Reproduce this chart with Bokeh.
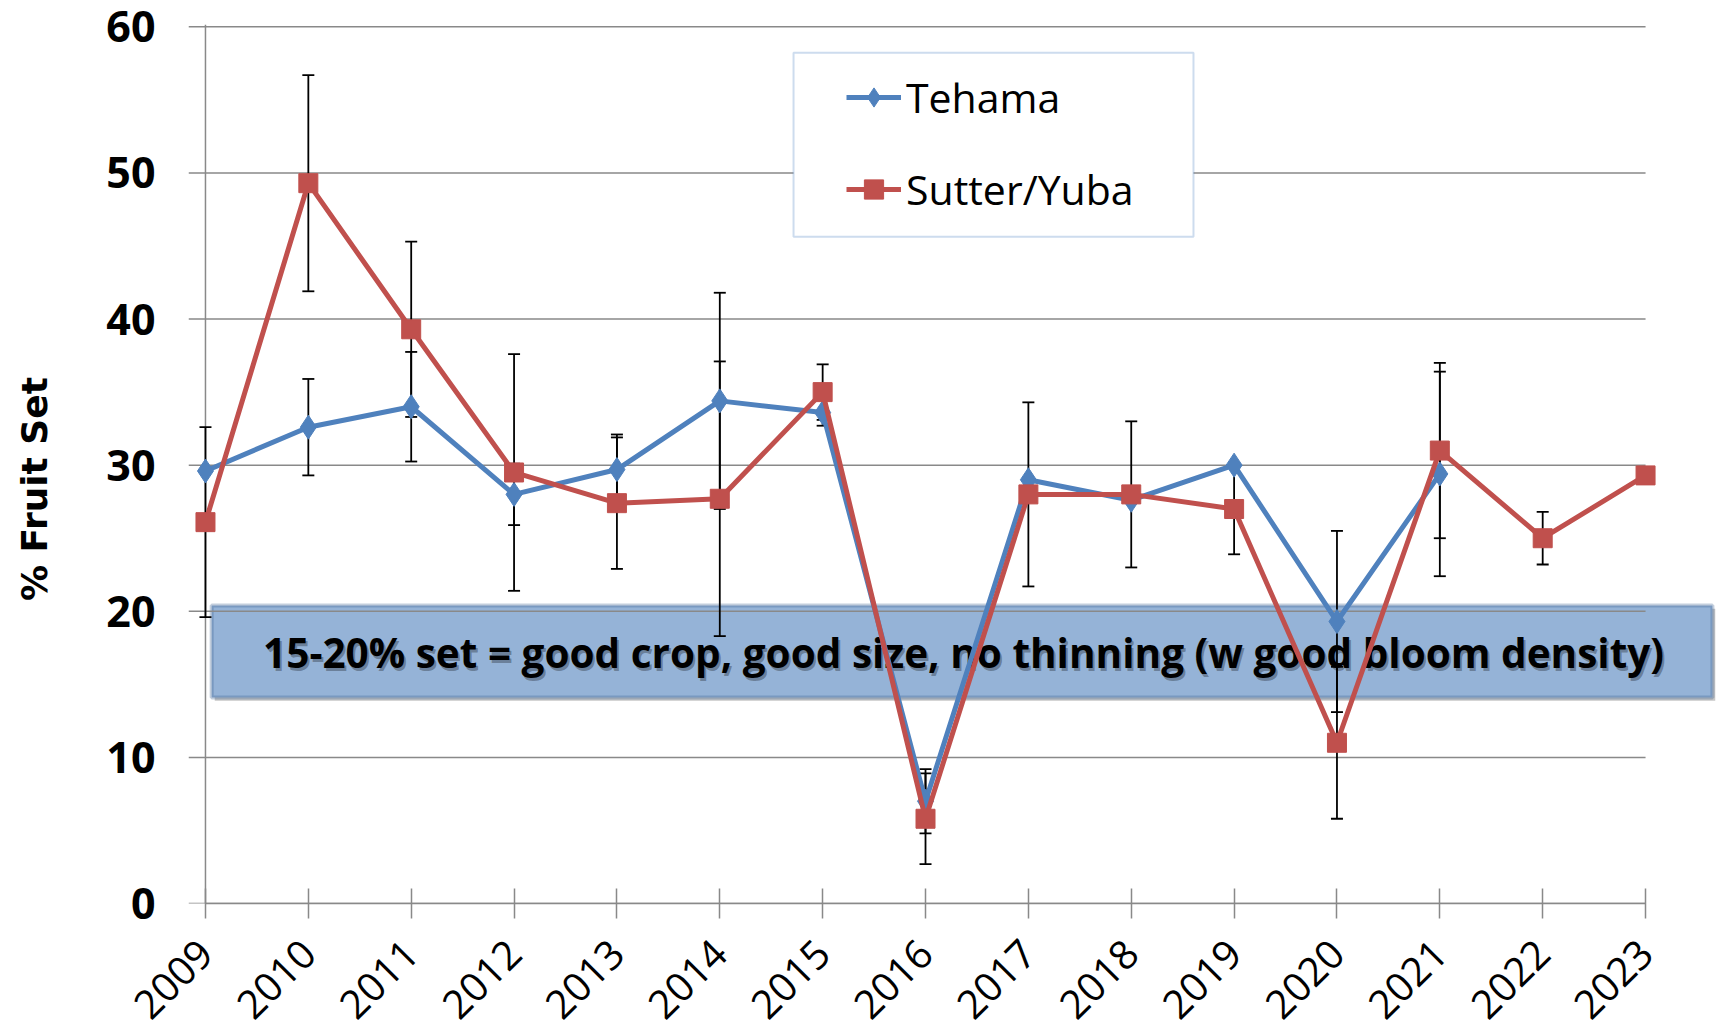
import math
from bokeh.plotting import figure
from bokeh.models import (Range1d, FixedTicker, ColumnDataSource, BoxAnnotation,
                          Label, Legend, LegendItem, Span)
from bokeh.embed import file_html
from bokeh.resources import INLINE

nan = float("nan")

# ---------------- data ----------------
years = list(range(2009, 2024))
tehama = [29.6, 32.6, 34.0, 28.0, 29.7, 34.4, 33.6, 7.0, 29.0, 27.6, 30.0, 19.3, 29.4, nan, nan]
tehama_err = [nan, 3.3, 3.75, 2.1, 2.4, 7.4, 0.9, 2.2, nan, nan, nan, 6.2, 7.0, nan, nan]
sutter = [26.1, 49.3, 39.3, 29.5, 27.4, 27.7, 35.0, 5.8, 28.0, 28.0, 27.0, 11.0, 31.0, 25.0, 29.3]
sutter_err = [6.5, 7.4, 6.0, 8.1, 4.5, 9.4, 1.9, 3.1, 6.3, 5.0, 3.1, 5.2, 6.0, 1.8, nan]
y_ticks = [0, 10, 20, 30, 40, 50, 60]
series_names = ["Tehama", "Sutter/Yuba"]
note_text = "15-20% set = good crop, good size, no thinning (w good bloom density)"
y_title = "% Fruit Set"

# ---------------- style / layout ----------------
BLUE = "#4F81BD"
RED = "#C0504D"
GRID = "#898989"
X_START, X_END = 2008.835, 2023.68
Y_END = 60.16

# note box (data coordinates of the overlay shape)
BOX_L, BOX_R, BOX_T, BOX_B = 2009.06, 2023.65, 20.40, 14.10
NOTE_X, NOTE_Y = 2016.37, 17.16
# legend frame
LEG_L, LEG_R, LEG_T, LEG_B = 2014.717, 2018.605, 58.23, 45.63

p = figure(width=1723, height=1035, x_range=Range1d(X_START, X_END),
           y_range=Range1d(0, Y_END), output_backend="svg", toolbar_location=None,
           min_border_left=188, min_border_right=8, min_border_top=24,
           min_border_bottom=132)
p.outline_line_color = None
p.grid.visible = False
p.background_fill_color = "white"
p.border_fill_color = "white"

# note box with shadow (behind the series)
p.add_layout(BoxAnnotation(left=BOX_L + 0.03, right=BOX_R + 0.03, top=BOX_T - 0.22,
                           bottom=BOX_B - 0.22, fill_color="black", fill_alpha=0.22,
                           line_color=None, level="underlay"))
p.add_layout(BoxAnnotation(left=BOX_L, right=BOX_R, top=BOX_T, bottom=BOX_B,
                           fill_color="#95B3D7", fill_alpha=1.0, line_color="#385D8A",
                           line_width=4, level="underlay"))
p.add_layout(Label(x=NOTE_X, y=NOTE_Y, x_offset=2, y_offset=-3, text=note_text,
                   text_align="center", text_baseline="alphabetic", text_font="Open Sans",
                   text_font_style="bold", text_font_size="40.5px", text_color="black",
                   text_alpha=0.3, level="underlay"))
p.add_layout(Label(x=NOTE_X, y=NOTE_Y, text=note_text, text_align="center",
                   text_baseline="alphabetic", text_font="Open Sans", text_font_style="bold",
                   text_font_size="40.5px", text_color="black", level="underlay"))

# vertical axis line
p.add_layout(Span(location=years[0], dimension="height", line_color=GRID,
                  line_width=1.5, level="underlay"))

# horizontal gridlines (limited to the category span, extending as outer ticks)
grid_src = ColumnDataSource(dict(y=y_ticks, x0=[X_START] * len(y_ticks),
                                 x1=[years[-1]] * len(y_ticks)))
p.segment(x0="x0", y0="y", x1="x1", y1="y", source=grid_src, line_color=GRID,
          line_width=1.5)


def err_source(vals, errs):
    xs, lo, hi = [], [], []
    for x, v, e in zip(years, vals, errs):
        if not (math.isnan(v) or math.isnan(e)):
            xs.append(x)
            lo.append(v - e)
            hi.append(v + e)
    return ColumnDataSource(dict(x=xs, lo=lo, hi=hi))


for vals, errs in [(tehama, tehama_err), (sutter, sutter_err)]:
    src = err_source(vals, errs)
    p.segment(x0="x", y0="lo", x1="x", y1="hi", source=src, line_color="black",
              line_width=1.8)
    p.scatter(x="x", y="lo", source=src, marker="dash", size=12, line_color="black",
              line_width=1.8)
    p.scatter(x="x", y="hi", source=src, marker="dash", size=12, line_color="black",
              line_width=1.8)

tl = p.line(years, tehama, line_color=BLUE, line_width=5)
tm = p.scatter(years, tehama, marker="diamond", size=24, fill_color=BLUE, line_color=BLUE)
sl = p.line(years, sutter, line_color=RED, line_width=5)
sm = p.scatter(years, sutter, marker="square", size=19, fill_color=RED, line_color=RED)

# legend frame + legend
p.add_layout(BoxAnnotation(left=LEG_L, right=LEG_R, top=LEG_T, bottom=LEG_B,
                           fill_color="white", fill_alpha=1.0, line_color="#5B8BC6",
                           line_width=2))
legend = Legend(items=[LegendItem(label=series_names[0], renderers=[tl, tm]),
                       LegendItem(label=series_names[1], renderers=[sl, sm])],
                location=(658, 686), orientation="vertical", padding=0, margin=0,
                spacing=36, glyph_width=55, glyph_height=48, label_standoff=5,
                label_height=48, label_text_font="Open Sans", label_text_font_size="41px",
                label_text_color="black", border_line_color=None,
                background_fill_alpha=0)
p.add_layout(legend)

# axes
xa = p.xaxis[0]
xa.ticker = FixedTicker(ticks=years)
xa.bounds = (years[0], years[-1])
xa.axis_line_color = GRID
xa.axis_line_width = 1.5
xa.major_tick_in = 15
xa.major_tick_out = 15
xa.major_tick_line_color = GRID
xa.major_tick_line_width = 1.5
xa.minor_tick_line_color = None
xa.major_label_orientation = math.pi / 4
xa.major_label_text_font = "Open Sans"
xa.major_label_text_font_size = "40px"
xa.major_label_text_color = "black"
xa.major_label_standoff = 28

ya = p.yaxis[0]
ya.ticker = FixedTicker(ticks=y_ticks)
ya.axis_line_color = None
ya.major_tick_line_color = None
ya.minor_tick_line_color = None
ya.major_tick_in = 0
ya.major_tick_out = 0
ya.major_label_text_font = "Open Sans"
ya.major_label_text_font_style = "bold"
ya.major_label_text_font_size = "43px"
ya.major_label_text_color = "black"
ya.major_label_standoff = 33
# trailing no-break spaces shift the centred title slightly downward, as in the original
ya.axis_label = y_title + "\u00a0\u00a0\u00a0\u00a0"
ya.axis_label_text_font = "DejaVu Sans"
ya.axis_label_text_font_style = "bold"
ya.axis_label_text_font_size = "36px"
ya.axis_label_text_color = "black"
ya.axis_label_standoff = 48

open("out.html", "w").write(file_html(p, INLINE))
